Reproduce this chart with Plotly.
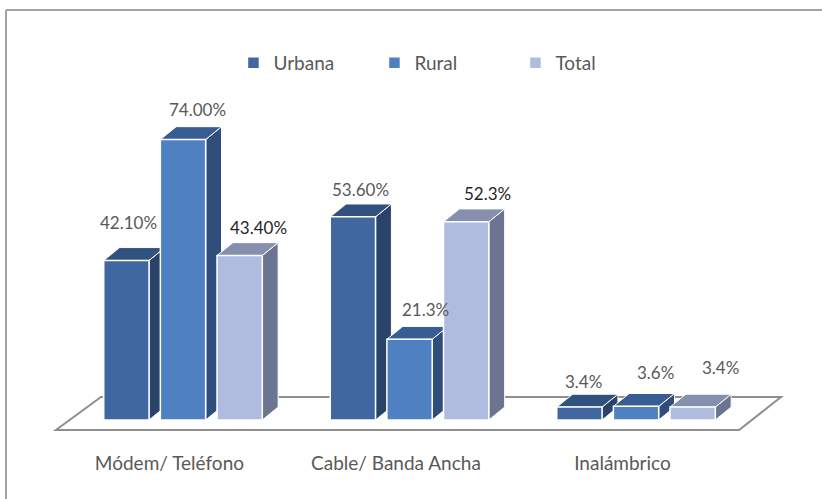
import plotly.graph_objects as go

# ---- data ----
categories = ["Módem/ Teléfono", "Cable/ Banda Ancha", "Inalámbrico"]
series_names = ["Urbana", "Rural", "Total"]
urbana = [42.10, 53.60, 3.4]
rural = [74.00, 21.3, 3.6]
total = [43.40, 52.3, 3.4]
# number of decimals printed in each value label
urbana_decimals = [2, 2, 1]
rural_decimals = [2, 1, 1]
total_decimals = [2, 1, 1]

series_values = [urbana, rural, total]
series_decimals = [urbana_decimals, rural_decimals, total_decimals]

# ---- styling ----
FONT = "Lato"
front_colors = ["#4167A0", "#4F81C2", "#AFBCDF"]
top_colors = ["#31527F", "#375D92", "#8690AE"]
side_colors = ["#2A4369", "#2F4E7C", "#6B7591"]
label_colors = [["#595959", "#595959", "#595959"],
                ["#595959", "#595959", "#595959"],
                ["#262626", "#262626", "#595959"]]
# pixel nudges (x, y) of each value label from the top centre of its bar
label_nudges = [[(2, 38), (8, 27), (4, 26)],
                [(14, 30), (16, 30), (19, 34)],
                [(19, 28), (21, 28), (28, 40)]]

BAR_WIDTH = 0.2          # in category units
BAR_STEP = 0.25          # spacing of the three series within a group
DEPTH_X = 0.07           # oblique depth offset of the 3-D boxes (x units)
DEPTH_Y = 3.4            # oblique depth offset of the 3-D boxes (value units)
TICK_SHIFT = -0.06       # category labels sit slightly left of the group centre

X_RANGE = [-0.808, 2.821]
Y_RANGE = [-5.28, 110.82]


def path(points):
    return "M " + " L ".join(f"{px:.4f},{py:.4f}" for px, py in points) + " Z"


fig = go.Figure()
shapes = []

# floor of the 3-D plot
floor = [(-0.561, -2.64), (2.455, -2.64), (2.640, 6.07), (-0.362, 6.07)]
shapes.append(dict(type="path", path=path(floor), xref="x", yref="y", layer="below",
                   fillcolor="white", line=dict(color="#8F8F8F", width=2)))

annotations = []
for s, name in enumerate(series_names):
    xs = [g + (s - 1) * BAR_STEP for g in range(len(categories))]
    fig.add_trace(go.Bar(
        x=xs, y=series_values[s], width=BAR_WIDTH, name=name,
        marker=dict(color=front_colors[s], line=dict(color="white", width=1.5)),
        hoverinfo="skip",
    ))

# top and side faces, drawn left to right so nearer boxes cover farther ones
for g in range(len(categories)):
    for s in range(len(series_names)):
        v = series_values[s][g]
        xc = g + (s - 1) * BAR_STEP
        xl, xr = xc - BAR_WIDTH / 2, xc + BAR_WIDTH / 2
        side = [(xr, 0), (xr, v), (xr + DEPTH_X, v + DEPTH_Y), (xr + DEPTH_X, DEPTH_Y)]
        top = [(xl, v), (xr, v), (xr + DEPTH_X, v + DEPTH_Y), (xl + DEPTH_X, v + DEPTH_Y)]
        shapes.append(dict(type="path", path=path(side), xref="x", yref="y", layer="below",
                           fillcolor=side_colors[s], line=dict(color="white", width=1)))
        shapes.append(dict(type="path", path=path(top), xref="x", yref="y", layer="below",
                           fillcolor=top_colors[s], line=dict(color="white", width=1)))
        dx, dy = label_nudges[s][g]
        annotations.append(dict(
            x=xc, y=v, xref="x", yref="y", showarrow=False,
            text=f"{v:.{series_decimals[s][g]}f}%",
            xshift=dx, yshift=dy, xanchor="center", yanchor="middle",
            font=dict(family=FONT, size=17, color=label_colors[s][g]),
        ))

# outer frame of the chart area
frame_color = "#A3A3A3"
shapes.append(dict(type="line", xref="paper", yref="paper", x0=0.0073, x1=0.0073,
                   y0=0.977, y1=-0.3, line=dict(color=frame_color, width=2)))
shapes.append(dict(type="line", xref="paper", yref="paper", x0=0.0073, x1=1.05,
                   y0=0.977, y1=0.977, line=dict(color=frame_color, width=2)))

fig.update_layout(
    width=822, height=499,
    margin=dict(l=0, r=0, t=0, b=59),
    paper_bgcolor="white", plot_bgcolor="white",
    barmode="overlay",
    shapes=shapes,
    annotations=annotations,
    font=dict(family=FONT, color="#595959"),
    showlegend=True,
    legend=dict(orientation="h", x=0.284, y=0.857, xanchor="left", yanchor="middle",
                font=dict(family=FONT, size=19, color="#595959"),
                itemwidth=30, entrywidth=96, entrywidthmode="pixels",
                bgcolor="rgba(0,0,0,0)"),
    xaxis=dict(range=X_RANGE, showgrid=False, zeroline=False, showline=False,
               tickvals=[g + TICK_SHIFT for g in range(len(categories))],
               ticktext=categories, ticks="", ticklabelstandoff=10,
               tickfont=dict(family=FONT, size=19, color="#595959"), fixedrange=True),
    yaxis=dict(range=Y_RANGE, visible=False, fixedrange=True),
)

fig.write_html("out.html")
